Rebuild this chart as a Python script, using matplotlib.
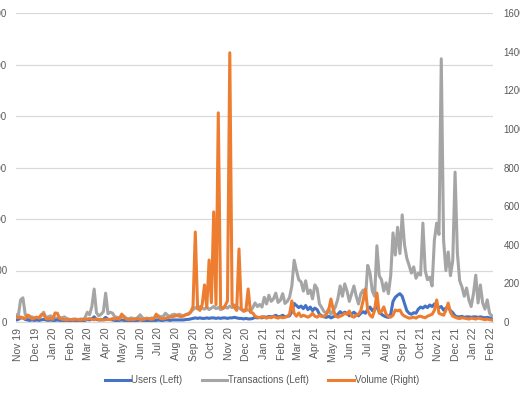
import matplotlib
matplotlib.use("Agg")
import matplotlib.pyplot as plt
import matplotlib.dates as mdates
from matplotlib.lines import Line2D
import pandas as pd

# daily figures sampled every 4 days from 28 Oct 2019
START = "2019-10-28"
STEP = "4D"

USERS = [
    4, 5, 8, 8, 5, 4, 3, 4, 3, 4,
    3, 4, 5, 4, 3, 4, 3, 3, 4, 3,
    3, 3, 2, 2, 2, 3, 2, 2, 3, 2,
    3, 5, 4, 6, 10, 5, 4, 4, 5, 9,
    5, 5, 4, 3, 3, 3, 4, 3, 3, 2,
    3, 3, 2, 3, 4, 3, 2, 3, 2, 3,
    3, 3, 4, 3, 3, 4, 4, 3, 4, 4,
    4, 4, 4, 4, 5, 5, 6, 7, 8, 7,
    8, 7, 7, 8, 7, 8, 8, 7, 8, 7,
    8, 8, 7, 8, 8, 9, 8, 7, 7, 6,
    7, 6, 6, 7, 9, 8, 9, 8, 10, 9,
    11, 10, 11, 13, 10, 11, 13, 10, 11, 12,
    20, 36, 32, 28, 31, 26, 32, 24, 29, 22,
    27, 24, 15, 12, 10, 9, 11, 8, 10, 12,
    15, 20, 16, 19, 17, 12, 16, 19, 15, 12,
    17, 20, 17, 25, 29, 22, 26, 29, 20, 15,
    12, 10, 9, 15, 40, 48, 52, 55, 50, 36,
    22, 17, 15, 18, 17, 25, 29, 27, 31, 28,
    33, 30, 35, 33, 28, 30, 23, 27, 29, 22,
    18, 12, 10, 10, 11, 9, 10, 10, 9, 10,
    10, 9, 10, 9, 8, 9, 8, 6,
]

TRANSACTIONS = [
    14, 12, 43, 47, 15, 8, 6, 10, 7, 9,
    8, 12, 19, 9, 10, 12, 9, 8, 7, 9,
    8, 10, 7, 5, 4, 6, 5, 4, 6, 5,
    8, 19, 14, 30, 64, 18, 12, 15, 20, 56,
    16, 19, 17, 10, 9, 8, 12, 11, 7, 6,
    8, 7, 6, 9, 14, 8, 6, 7, 6, 8,
    7, 9, 12, 10, 11, 17, 13, 11, 14, 15,
    12, 15, 13, 12, 15, 16, 20, 24, 28, 26,
    30, 27, 25, 29, 24, 27, 30, 26, 28, 24,
    26, 29, 27, 31, 28, 33, 30, 27, 24, 22,
    25, 23, 21, 28, 37, 30, 34, 29, 48, 35,
    52, 40, 45, 56, 38, 42, 55, 36, 40, 48,
    70, 120, 100, 82, 78, 60, 80, 55, 62, 45,
    72, 65, 35, 28, 20, 18, 25, 15, 22, 30,
    45, 70, 50, 74, 60, 40, 55, 70, 50, 35,
    55, 62, 45, 110, 95, 60, 50, 148, 90, 82,
    60, 76, 55, 90, 173, 130, 184, 133, 208, 150,
    124, 110, 95, 107, 85, 95, 91, 192, 100, 82,
    87, 70, 159, 192, 170, 511, 159, 100, 136, 90,
    120, 291, 134, 80, 68, 50, 66, 43, 30, 55,
    91, 37, 72, 37, 25, 43, 17, 12,
]

VOLUME = [
    26, 22, 26, 20, 18, 36, 30, 15, 20, 25,
    20, 38, 41, 18, 15, 20, 14, 47, 45, 18,
    15, 12, 10, 14, 12, 10, 15, 12, 10, 14,
    12, 15, 18, 14, 12, 16, 12, 14, 10, 12,
    14, 12, 18, 15, 20, 14, 41, 25, 15, 12,
    14, 12, 15, 18, 14, 12, 15, 20, 16, 14,
    18, 41, 25, 18, 16, 20, 22, 25, 28, 30,
    36, 30, 28, 32, 38, 40, 50, 80, 466, 70,
    60, 90, 192, 75, 321, 100, 570, 90, 1083, 80,
    70, 85, 110, 1394, 95, 75, 60, 378, 70, 55,
    60, 171, 50, 47, 30, 25, 22, 28, 25, 20,
    25, 22, 28, 24, 20, 26, 22, 25, 28, 40,
    109, 45, 30, 47, 28, 35, 30, 25, 32, 45,
    30, 25, 35, 28, 30, 40, 60, 119, 65, 30,
    25, 30, 35, 45, 40, 57, 30, 25, 35, 40,
    60, 110, 171, 60, 35, 25, 60, 150, 45, 55,
    78, 40, 30, 25, 35, 62, 58, 62, 40, 30,
    25, 20, 22, 25, 20, 28, 30, 25, 22, 30,
    35, 40, 60, 114, 45, 40, 35, 60, 98, 50,
    30, 25, 20, 18, 22, 20, 18, 15, 20, 18,
    15, 20, 18, 15, 12, 15, 12, 10,
]

SERIES_LABELS = ["Users (Left)", "Transactions (Left)", "Volume (Right)"]
COLORS = ["#4472C4", "#A5A5A5", "#ED7D31"]
TEXT = "#595959"
GRID = "#D9D9D9"

plt.rcParams["font.family"] = ["Liberation Sans", "DejaVu Sans"]
plt.rcParams["font.size"] = 7


def dates_for(values):
    return pd.date_range(START, periods=len(values), freq=STEP)


def main():
    fig = plt.figure(figsize=(5.2, 4.0), dpi=100)
    ax = fig.add_axes([16 / 520, 1 - 322 / 400, 477 / 520, 309 / 400])
    ax2 = ax.twinx()

    lw = 2.2
    ax.plot(dates_for(TRANSACTIONS), TRANSACTIONS, color=COLORS[1], lw=lw, zorder=2)
    ax.plot(dates_for(USERS), USERS, color=COLORS[0], lw=lw, zorder=3)
    ax2.plot(dates_for(VOLUME), VOLUME, color=COLORS[2], lw=lw, zorder=3)

    dates = dates_for(VOLUME)
    ax.set_xlim(dates[0], dates[-1] + pd.Timedelta(days=2))
    ax.set_ylim(0, 600)
    ax.set_yticks(range(0, 601, 100))
    ax2.set_ylim(0, 1600)
    ax2.set_yticks(range(0, 1601, 200))

    ax.grid(axis="y", color=GRID, lw=0.9)
    ax.set_axisbelow(True)
    for a in (ax, ax2):
        for side in ("top", "left", "right"):
            a.spines[side].set_visible(False)
        a.spines["bottom"].set_color(GRID)
        a.tick_params(length=0, colors=TEXT, labelsize=7)
    ax.tick_params(axis="y", pad=6.5)
    ax2.tick_params(axis="y", pad=7.5)
    ax.tick_params(axis="x", pad=4)

    ax.xaxis.set_major_locator(mdates.MonthLocator())
    ax.xaxis.set_major_formatter(mdates.DateFormatter("%b %y"))
    for lbl in ax.get_xticklabels():
        lbl.set_rotation(90)
        lbl.set_fontsize(7.5)

    handles = [Line2D([], [], color=c, lw=lw) for c in COLORS]
    fig.legend(
        handles, SERIES_LABELS,
        loc="center", bbox_to_anchor=(262 / 520, 1 - 380 / 400),
        ncol=3, frameon=False, handlelength=2.6, handletextpad=0.1,
        columnspacing=2.0, labelcolor=TEXT, fontsize=7,
    )

    fig.savefig("out.png", dpi=100)


if __name__ == "__main__":
    main()
